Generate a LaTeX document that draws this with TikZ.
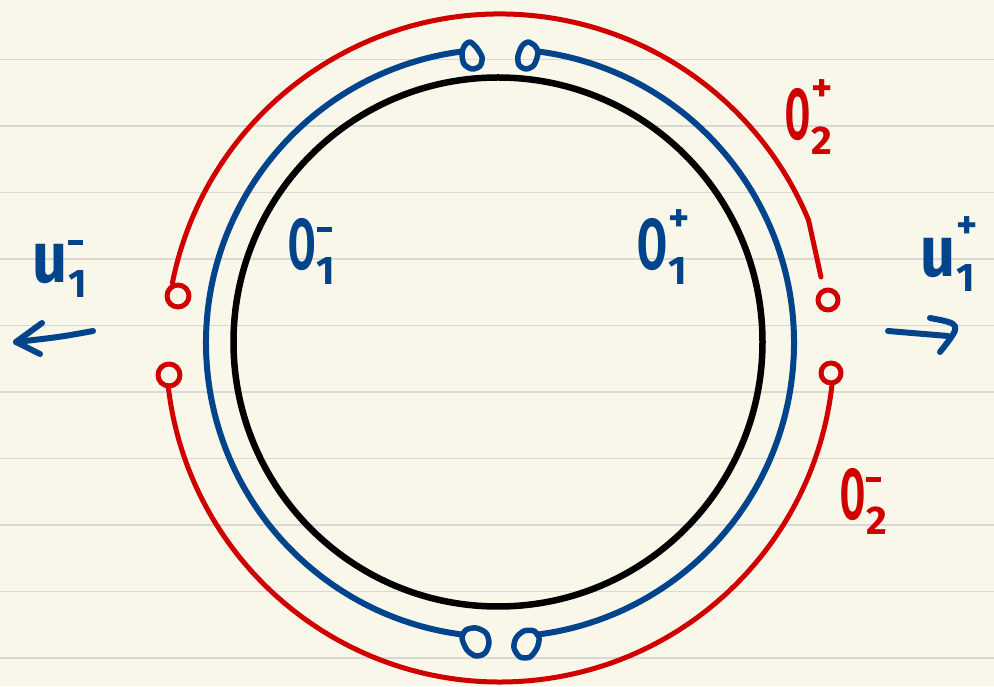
\documentclass[tikz,border=0pt]{standalone}
\usepackage{fontspec}
\setmainfont{Fira Sans}
\usepackage{graphicx}
\definecolor{paper}{RGB}{249,247,233}
\definecolor{ruleg}{RGB}{216,216,212}
\definecolor{inkb}{RGB}{2,68,140}
\definecolor{inkr}{RGB}{208,0,0}
\newcommand{\hwlab}[4]{\fontsize{72}{72}\selectfont\bfseries\scalebox{#1}[1]{#2}\kern1pt\rlap{\raisebox{38pt}{\fontsize{40}{40}\selectfont #3}}\raisebox{-15pt}{\fontsize{40}{40}\selectfont #4}}
\newcommand{\hwminus}{\rule{15pt}{5pt}}
\tikzset{
  ruled/.style={draw=ruleg, line width=1.5},
  ringk/.style={draw=black, line width=6.5},
  ringb/.style={draw=inkb, line width=6, line cap=round},
  ringr/.style={draw=inkr, line width=5, line cap=round},
  loopb/.style={draw=inkb, line width=5.5, line cap=round, line join=round},
  loopr/.style={draw=inkr, line width=5, line cap=round, line join=round},
  labb/.style={text=inkb, inner sep=0pt, anchor=base west},
  labr/.style={text=inkr, inner sep=0pt, anchor=base west},
  arrb/.style={draw=inkb, line width=6, line cap=round, line join=round}
}
\begin{document}
\begin{tikzpicture}[x=1pt,y=1pt]
\fill[paper] (0,0) rectangle (994,686);
\useasboundingbox (0,0) rectangle (994,686);
\foreach \k in {0,...,9} \draw[ruled] (0,{626.5-66.5*\k}) -- (994,{626.5-66.5*\k});

% centres
\coordinate (ck) at (498,344);
\coordinate (cb) at (500,343);
\coordinate (cr) at (500,338);

% black ring
\draw[ringk] (ck) circle (264.5);

% blue arcs
\draw[ringb] (cb) ++(97.5:294) arc (97.5:262.7:294);
\draw[ringb] (cb) ++(82.5:294) arc (82.5:-82.7:294);
% blue loops
\draw[loopb] plot[smooth cycle] coordinates {(462,633) (465,641) (470,644) (476,639) (482,629) (480,620) (472,617) (464,622)};
\draw[loopb] plot[smooth cycle] coordinates {(538,633) (535,640) (528,644) (522,640) (518,630) (519,621) (526,617) (534,621)};
\draw[loopb] plot[smooth cycle] coordinates {(462,48) (466,56) (476,58) (486,53) (489,43) (485,33) (476,30) (467,36)};
\draw[loopb] plot[smooth cycle] coordinates {(539,48) (534,55) (524,55) (516,48) (514,38) (520,29) (530,29) (537,38)};

% red arcs
\draw[ringr] (cr) ++(168.8:334) arc (168.8:22.5:334) coordinate (kink);
\coordinate (rtend) at (821,409);
\draw[ringr] (kink) -- (rtend);
\draw[ringr] (cr) ++(186.5:334) arc (186.5:353.8:334);
% red loops
\draw[loopr] (178,390) circle (11);
\draw[loopr] (828,386) circle (10);
\draw[loopr] (169,311) circle (11);
\draw[loopr] (831,313) circle (10);

% arrows
\coordinate (la1) at (93,355);
\coordinate (la2) at (16,344);
\coordinate (lh1) at (42,363);
\coordinate (lh2) at (40,332);
\draw[arrb] (la1) .. controls (60,349) .. (la2);
\draw[arrb] (lh1) -- (la2) -- (lh2);
\coordinate (ra1) at (888,355);
\coordinate (ra2) at (948,350);
\coordinate (rh1) at (930,368);
\coordinate (rh2) at (940,334);
\draw[arrb] (ra1) -- (ra2);
\draw[arrb] (rh1) .. controls (962,362) .. (rh2);

% labels
\node[labb] (o1m) at (288,416) {\hwlab{0.55}{O}{\hwminus}{1}};
\node[labb] (o1p) at (637,416) {\hwlab{0.6}{O}{+}{1}};
\node[labr] (o2p) at (785,546) {\hwlab{0.5}{O}{+}{2}};
\node[labr] (o2m) at (840,166) {\hwlab{0.5}{O}{\hwminus}{2}};
\node[labb] (u1m) at (32,403) {\hwlab{0.85}{u}{\hwminus}{1}};
\node[labb] (u1p) at (920,409) {\hwlab{0.85}{u}{+}{1}};
\end{tikzpicture}
\end{document}
